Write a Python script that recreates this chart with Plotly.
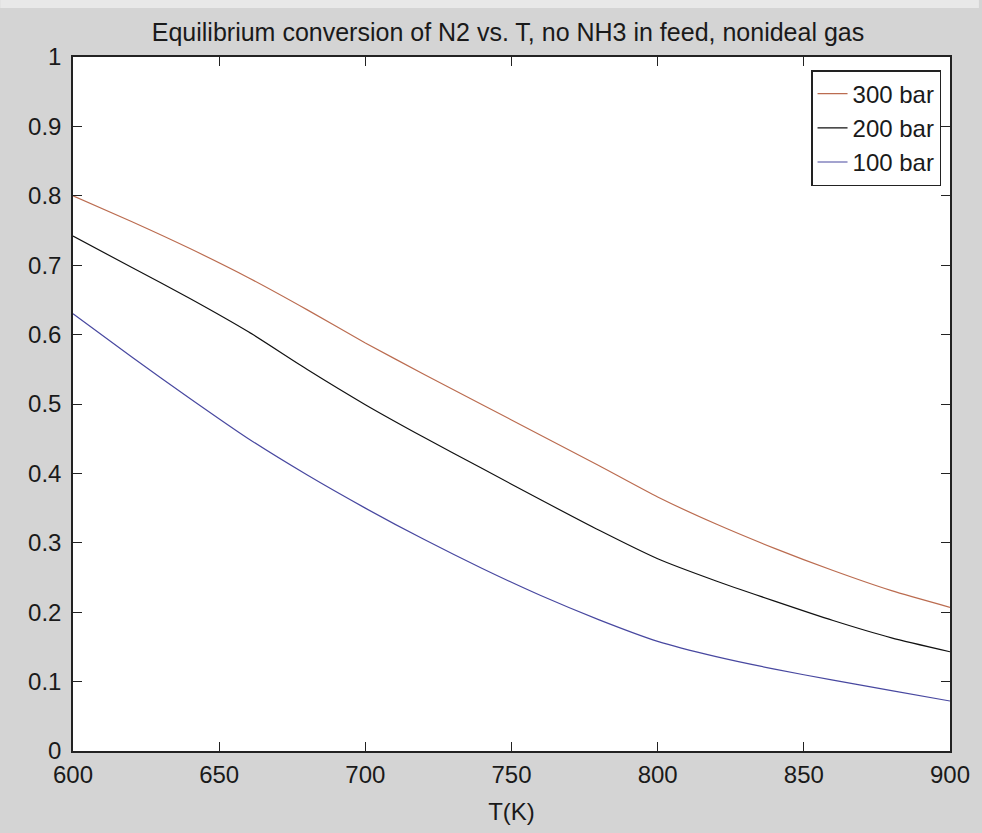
import plotly.graph_objects as go

# Data
T = [600, 620, 640, 660, 680, 700, 720, 740, 760, 780, 800, 820, 840, 860, 880, 900]
conv_300 = [0.800, 0.763, 0.724, 0.682, 0.636, 0.588, 0.543, 0.499, 0.455, 0.411,
            0.366, 0.327, 0.292, 0.260, 0.231, 0.207]
conv_200 = [0.742, 0.697, 0.652, 0.604, 0.550, 0.499, 0.452, 0.407, 0.362, 0.318,
            0.277, 0.245, 0.216, 0.188, 0.163, 0.143]
conv_100 = [0.630, 0.568, 0.508, 0.450, 0.398, 0.350, 0.305, 0.263, 0.224, 0.189,
            0.158, 0.136, 0.118, 0.102, 0.087, 0.072]
series_names = ["300 bar", "200 bar", "100 bar"]
series_colors = ["#bb6c50", "#111111", "#4848a0"]

x_ticks = [600, 650, 700, 750, 800, 850, 900]
y_ticks = [0, 0.1, 0.2, 0.3, 0.4, 0.5, 0.6, 0.7, 0.8, 0.9, 1]

W, H = 982, 833
L, R, TOP, B = 73, 29, 57, 82

FONT = "Liberation Sans, Arial, sans-serif"
TXT = "#1a1a1a"

fig = go.Figure()
for name, ys, col in zip(series_names, [conv_300, conv_200, conv_100], series_colors):
    fig.add_trace(go.Scatter(x=T, y=ys, mode="lines", name=name, legendgroup=name,
                             line=dict(color=col, width=1.2, shape="spline", smoothing=0.6)))

axis_common = dict(
    showgrid=False, zeroline=False, showline=True, linecolor="#222222", linewidth=1.5,
    mirror="ticks", ticks="inside", ticklen=9, tickcolor="#222222", tickwidth=1.2,
    tickfont=dict(family=FONT, size=24, color=TXT),
)

fig.update_layout(
    width=W, height=H,
    margin=dict(l=L, r=R, t=TOP, b=B, pad=0),
    paper_bgcolor="#d4d4d4", plot_bgcolor="#ffffff",
    font=dict(family=FONT, size=24, color=TXT),
    title=dict(text="Equilibrium conversion of N2 vs. T, no NH3 in feed, nonideal gas",
               x=508 / W, xanchor="center", xref="container",
               y=1 - 32 / H, yanchor="middle", yref="container",
               font=dict(family=FONT, size=25, color=TXT)),
    xaxis=dict(range=[600, 900], tickvals=x_ticks, ticklabelstandoff=1,
               title=dict(text="T(K)", standoff=17, font=dict(family=FONT, size=24, color=TXT)),
               **axis_common),
    yaxis=dict(range=[0, 1], tickvals=y_ticks, ticklabelstandoff=5, **axis_common),
    showlegend=True,
    legend=dict(x=(944 - L) / (W - L - R), xanchor="right",
                y=(H - B - 70) / (H - TOP - B), yanchor="top",
                bgcolor="#ffffff", bordercolor="#222222", borderwidth=1.5,
                font=dict(family=FONT, size=24, color=TXT),
                tracegroupgap=0, itemwidth=30),
    shapes=[dict(type="rect", xref="paper", yref="paper", layer="below",
                 x0=-L / (W - L - R), x1=1 + R / (W - L - R),
                 y0=1 + (TOP - 8) / (H - TOP - B), y1=1 + TOP / (H - TOP - B),
                 fillcolor="#e8e8e8", line=dict(width=0))],
)

fig.write_html("out.html")
